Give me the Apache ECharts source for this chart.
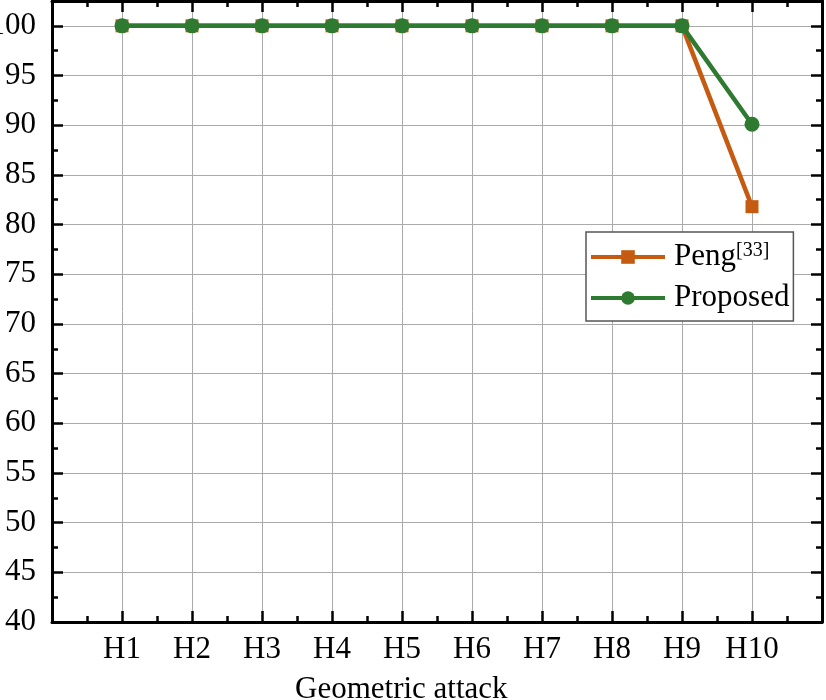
<!DOCTYPE html>
<html>
<head>
<meta charset="utf-8">
<script src="https://cdn.jsdelivr.net/npm/echarts@6/dist/echarts.min.js"></script>
<style>
  html, body { margin: 0; padding: 0; background: #fff; }
  #chart { width: 826px; height: 700px; }
</style>
</head>
<body>
<div id="chart"></div>
<script>
// data
const categories = ['H1', 'H2', 'H3', 'H4', 'H5', 'H6', 'H7', 'H8', 'H9', 'H10'];
const pengValues = [100, 100, 100, 100, 100, 100, 100, 100, 100, 81.8];
const proposedValues = [100, 100, 100, 100, 100, 100, 100, 100, 100, 90.1];
const seriesNames = ['Peng', 'Proposed'];

const FONT = '"Liberation Serif", "Times New Roman", serif';
const ORANGE = '#C55A11';
const GREEN = '#2E7A30';
const GRIDC = '#aaaaaa';

// categories sit at 1..10 on a 0..11 value axis (like the original plot)
function toPoints(vals) {
  return categories.map((c, i) => [i + 1, vals[i]]);
}

let chart = echarts.init(document.getElementById('chart'));

const axisLine = { show: true, onZero: false, lineStyle: { color: '#000', width: 3 } };
const majorTick = { show: true, inside: true, length: 11, lineStyle: { color: '#000', width: 2.5 } };
const minorTickX = { show: true, splitNumber: 2, length: 6, lineStyle: { color: '#000', width: 2.5 } };
const labelStyle = { color: '#000', fontSize: 31, fontFamily: FONT };

chart.setOption({
  animation: false,
  grid: { left: 52, right: 4, top: 1, bottom: 78, outerBoundsMode: 'none', containLabel: false },
  title: {
    text: 'Geometric attack',
    left: 295,
    top: 674,
    padding: 0,
    textStyle: { color: '#000', fontSize: 31, fontWeight: 'normal', fontFamily: FONT }
  },
  legend: {
    orient: 'vertical',
    left: 586,
    top: 232,
    padding: [9, 4, 7, 3],
    itemWidth: 74,
    itemHeight: 17,
    itemGap: 7,
    backgroundColor: '#fff',
    borderColor: '#555',
    borderWidth: 1.5,
    borderRadius: 0,
    lineStyle: { width: 4 },
    data: seriesNames,
    formatter: function (name) {
      return name === 'Peng' ? 'Peng{sup|[33]}' : name;
    },
    textStyle: {
      color: '#000',
      fontSize: 31,
      fontFamily: FONT,
      lineHeight: 32,
      padding: [0, 0, 0, 4],
      rich: {
        sup: { fontSize: 20, fontFamily: FONT, color: '#000', verticalAlign: 'top', lineHeight: 32, padding: [0, 0, 14, 0] }
      }
    }
  },
  xAxis: [
    {
      type: 'value', position: 'bottom', min: 0, max: 11, interval: 1,
      axisLine: axisLine, axisTick: majorTick, minorTick: minorTickX,
      splitLine: { show: true, lineStyle: { color: GRIDC, width: 1 } },
      axisLabel: Object.assign({
        margin: 12,
        formatter: function (v) { return categories[v - 1] || ''; }
      }, labelStyle)
    },
    {
      type: 'value', position: 'top', min: 0, max: 11, interval: 1,
      axisLine: axisLine, axisTick: majorTick, minorTick: minorTickX,
      splitLine: { show: false }, axisLabel: { show: false }
    }
  ],
  yAxis: [
    {
      type: 'value', position: 'left', min: 40, max: 102.5, interval: 5,
      axisLine: axisLine, axisTick: majorTick,
      splitLine: { show: true, lineStyle: { color: GRIDC, width: 1 } },
      axisLabel: Object.assign({
        margin: 16,
        formatter: function (v) { return v % 5 === 0 ? String(v) : ''; }
      }, labelStyle)
    },
    {
      type: 'value', position: 'left', min: 40, max: 102.5, interval: 2.5,
      axisLine: { show: false, onZero: false },
      axisTick: { show: true, inside: true, length: 6, lineStyle: { color: '#000', width: 2.5 } },
      splitLine: { show: false }, axisLabel: { show: false }
    },
    {
      type: 'value', position: 'right', min: 40, max: 102.5, interval: 5,
      axisLine: axisLine, axisTick: majorTick,
      splitLine: { show: false }, axisLabel: { show: false }
    },
    {
      type: 'value', position: 'right', min: 40, max: 102.5, interval: 2.5,
      axisLine: { show: false, onZero: false },
      axisTick: { show: true, inside: true, length: 6, lineStyle: { color: '#000', width: 2.5 } },
      splitLine: { show: false }, axisLabel: { show: false }
    }
  ],
  series: [
    {
      name: seriesNames[0],
      type: 'line',
      data: toPoints(pengValues),
      symbol: 'rect',
      symbolSize: 13,
      z: 3,
      lineStyle: { color: ORANGE, width: 4.5 },
      itemStyle: { color: ORANGE }
    },
    {
      name: seriesNames[1],
      type: 'line',
      data: toPoints(proposedValues),
      symbol: 'circle',
      symbolSize: 15,
      z: 4,
      lineStyle: { color: GREEN, width: 4.5 },
      itemStyle: { color: GREEN }
    }
  ]
});
</script>
</body>
</html>
